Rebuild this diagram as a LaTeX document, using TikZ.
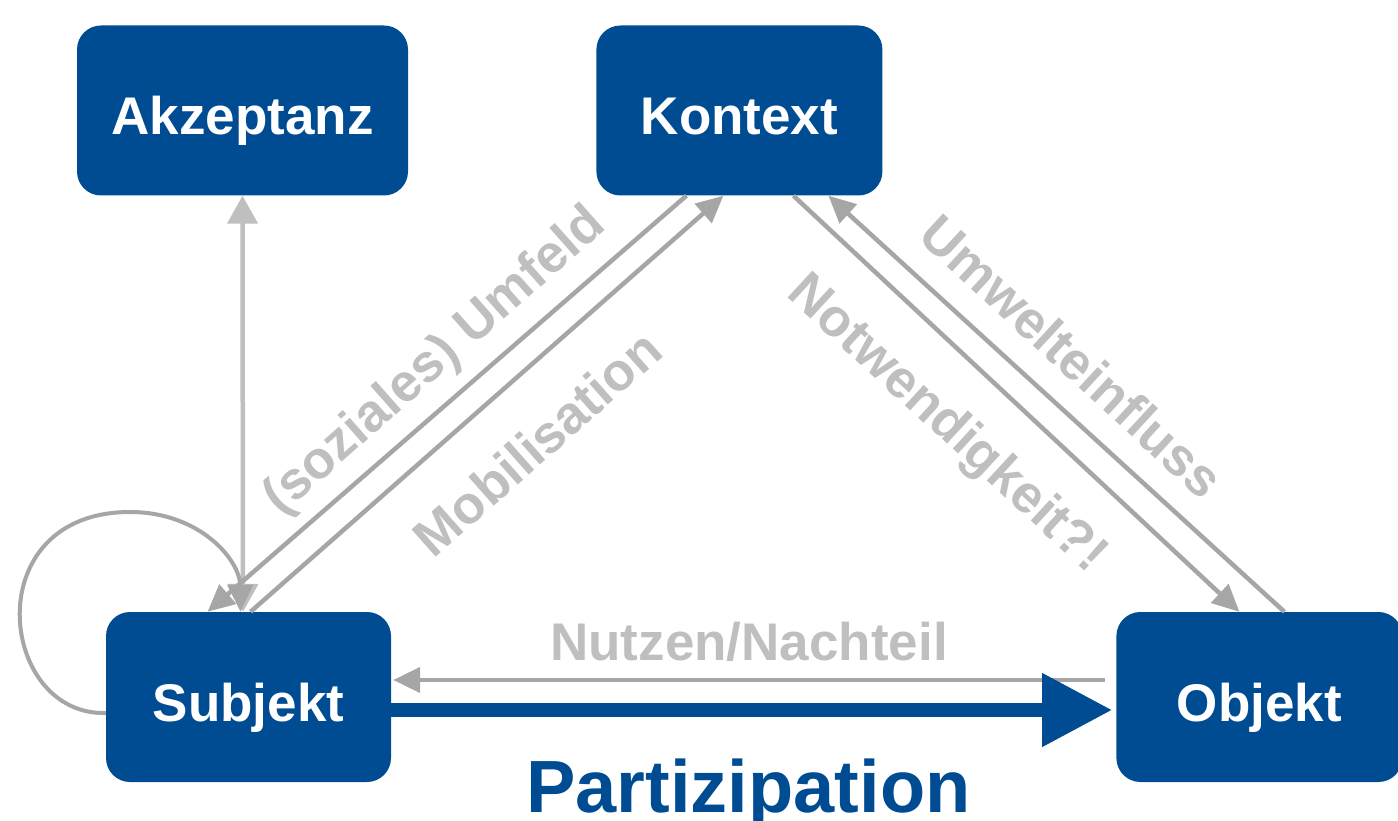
\documentclass[tikz,border=0pt]{standalone}
\usepackage{fontspec}
\setmainfont{Liberation Sans}
\usetikzlibrary{arrows.meta, positioning}

\definecolor{uniblue}{HTML}{004C93}
\definecolor{linegrey}{HTML}{A6A6A6}
\definecolor{textgrey}{HTML}{BFBFBF}

\begin{document}
\begin{tikzpicture}[
    x=1pt, y=-1pt,
    every node/.style={font=\bfseries\fontsize{53}{60}\selectfont},
    box/.style={rectangle, rounded corners=24pt, fill=uniblue, text=white, minimum height=170pt, text height=48pt, text depth=0pt, inner sep=0pt},
    lbl/.style={text=textgrey, inner sep=0pt, text height=38pt, text depth=0pt},
    arrow/.style={-{Triangle[length=27pt, width=25pt]}, line width=4.5pt, draw=linegrey},
    biarrow/.style={{Triangle[length=28pt, width=30pt]}-{Triangle[length=28pt, width=30pt]}, line width=4.5pt, draw=textgrey},
    bigarrow/.style={-{Triangle[length=70pt, width=70pt]}, line width=14pt, draw=uniblue}
]
\useasboundingbox (0,0) rectangle (1398,821);

% Boxes
\node[box, minimum width=331pt] (akzeptanz) at (242.5,110.5) {Akzeptanz};
\node[box, minimum width=286pt, right=188pt of akzeptanz] (kontext) {Kontext};
\node[box, minimum width=285pt] (subjekt) at (248.5,697) {Subjekt};
\node[box, minimum width=286pt, right=725pt of subjekt] (objekt) {Objekt};

% Labels along the arrows
\node[lbl, rotate=41.5] (umfeld) at (432,358) {(soziales) Umfeld};
\node[lbl, rotate=41.5] (mobil) at (537,443) {Mobilisation};
\node[lbl, rotate=-42.7] (notwendig) at (950,421) {Notwendigkeit?!};
\node[lbl, rotate=-42.7] (umwelt) at (1072,356) {Umwelteinfluss};
\node[lbl] (nutzen) at (749,641) {Nutzen/Nachteil};
\node[lbl, text=uniblue, text height=53pt, font=\bfseries\fontsize{74}{80}\selectfont] (partizipation) at (748.5,786) {Partizipation};

% Arrows
\draw[biarrow] (akzeptanz.south) -- ([xshift=-5.5pt]subjekt.north);
\coordinate (looptop) at (130,512);
\draw[arrow, line width=4pt] ([yshift=-16pt]subjekt.west) .. controls (-2,716) and (-24,512) .. (looptop)
    .. controls (200,512) and (240,560) .. ([xshift=-8pt]subjekt.north);
\draw[arrow] ([xshift=-53pt]kontext.south) -- ([xshift=-41pt]subjekt.north);
\draw[arrow] ([xshift=2pt]subjekt.north) -- ([xshift=-16pt]kontext.south);
\draw[arrow] ([xshift=54pt]kontext.south) -- ([xshift=-20pt]objekt.north);
\draw[arrow] ([xshift=25pt]objekt.north) -- ([xshift=89pt]kontext.south);

\draw[arrow] ([yshift=17pt, xshift=-11pt]objekt.west) -- ([yshift=17pt, xshift=2pt]subjekt.east);
\draw[bigarrow] ([yshift=-13pt]subjekt.east) -- ([yshift=-13pt, xshift=-4pt]objekt.west);

\end{tikzpicture}
\end{document}
